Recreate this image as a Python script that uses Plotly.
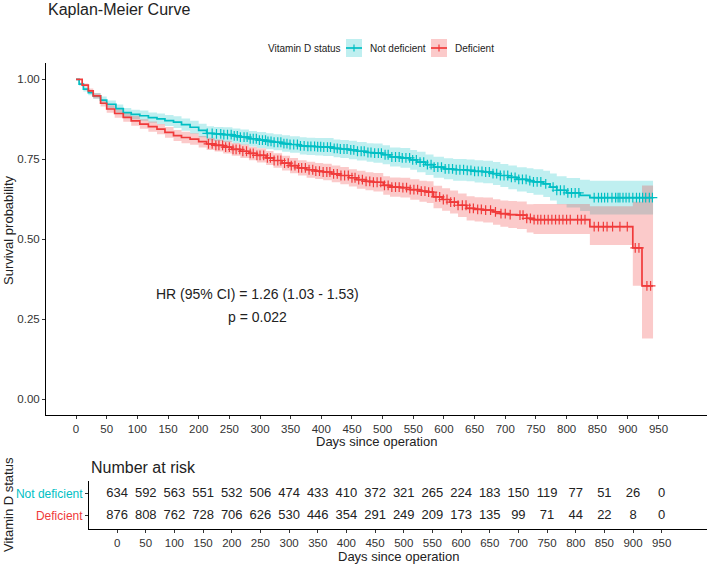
import numpy as np
import plotly.graph_objects as go

# ---------------- data ----------------
group_names = ["Not deficient", "Deficient"]

nd_time = [0, 5, 12, 20, 28, 40, 50, 65, 77, 90, 104, 118, 132, 145, 159, 172, 186, 200, 213, 225, 240,
           255, 268, 282, 295, 310, 322, 336, 349, 365, 376, 390, 403, 420, 431, 445, 458, 474, 485, 500,
           512, 529, 545, 556, 570, 583, 600, 615, 637, 650, 664, 680, 692, 705, 719, 735, 746, 762, 773,
           784, 800, 822, 838, 941]
nd_surv = [1.0, 0.985, 0.969, 0.958, 0.948, 0.935, 0.922, 0.908, 0.896, 0.890, 0.886, 0.880, 0.876, 0.871,
           0.866, 0.858, 0.850, 0.840, 0.831, 0.829, 0.827, 0.823, 0.819, 0.814, 0.810, 0.806, 0.803, 0.799,
           0.796, 0.792, 0.790, 0.789, 0.788, 0.784, 0.782, 0.779, 0.775, 0.771, 0.769, 0.764, 0.757, 0.754,
           0.748, 0.741, 0.733, 0.725, 0.720, 0.717, 0.715, 0.712, 0.710, 0.705, 0.699, 0.693, 0.687, 0.683,
           0.679, 0.673, 0.663, 0.653, 0.645, 0.637, 0.630, 0.630]
nd_lower = [1.0, 0.980, 0.962, 0.950, 0.939, 0.924, 0.910, 0.895, 0.882, 0.875, 0.870, 0.864, 0.859, 0.854,
            0.848, 0.839, 0.830, 0.819, 0.809, 0.807, 0.804, 0.800, 0.795, 0.790, 0.785, 0.781, 0.778, 0.773,
            0.770, 0.765, 0.763, 0.762, 0.760, 0.756, 0.754, 0.750, 0.746, 0.742, 0.739, 0.734, 0.727, 0.723,
            0.717, 0.709, 0.701, 0.692, 0.687, 0.683, 0.681, 0.677, 0.675, 0.669, 0.663, 0.656, 0.649, 0.644,
            0.639, 0.632, 0.621, 0.609, 0.599, 0.588, 0.577, 0.577]
nd_upper = [1.0, 0.990, 0.976, 0.966, 0.957, 0.946, 0.934, 0.921, 0.910, 0.905, 0.902, 0.896, 0.893, 0.888,
            0.884, 0.877, 0.870, 0.861, 0.853, 0.851, 0.850, 0.846, 0.843, 0.838, 0.835, 0.831, 0.828, 0.825,
            0.822, 0.819, 0.817, 0.816, 0.816, 0.812, 0.810, 0.808, 0.804, 0.800, 0.799, 0.794, 0.787, 0.785,
            0.779, 0.773, 0.765, 0.758, 0.753, 0.751, 0.749, 0.747, 0.745, 0.741, 0.735, 0.730, 0.725, 0.722,
            0.719, 0.714, 0.705, 0.697, 0.691, 0.686, 0.683, 0.683]

d_time = [0, 10, 20, 28, 40, 50, 63, 77, 90, 104, 118, 132, 145, 159, 172, 186, 200, 213, 226, 240, 254,
          268, 282, 295, 310, 322, 336, 349, 362, 376, 390, 403, 417, 431, 445, 458, 472, 485, 501, 512,
          529, 545, 560, 572, 583, 597, 610, 623, 637, 650, 664, 680, 692, 705, 719, 735, 746, 838, 908,
          923, 941]
d_surv = [1.0, 0.982, 0.964, 0.948, 0.925, 0.907, 0.893, 0.881, 0.870, 0.860, 0.852, 0.844, 0.834, 0.824,
          0.818, 0.813, 0.805, 0.798, 0.793, 0.788, 0.781, 0.775, 0.768, 0.762, 0.754, 0.746, 0.738, 0.730,
          0.723, 0.717, 0.713, 0.710, 0.704, 0.699, 0.692, 0.686, 0.681, 0.678, 0.668, 0.663, 0.661, 0.655,
          0.650, 0.647, 0.632, 0.624, 0.616, 0.606, 0.596, 0.593, 0.591, 0.585, 0.580, 0.577, 0.575, 0.565,
          0.561, 0.539, 0.473, 0.354, 0.354]
d_lower = [1.0, 0.977, 0.957, 0.940, 0.915, 0.895, 0.880, 0.867, 0.855, 0.845, 0.836, 0.828, 0.817, 0.807,
           0.800, 0.795, 0.787, 0.779, 0.774, 0.768, 0.761, 0.754, 0.747, 0.740, 0.732, 0.723, 0.715, 0.706,
           0.699, 0.692, 0.688, 0.684, 0.678, 0.672, 0.665, 0.658, 0.653, 0.649, 0.639, 0.633, 0.630, 0.623,
           0.617, 0.613, 0.597, 0.589, 0.580, 0.569, 0.558, 0.555, 0.552, 0.545, 0.539, 0.535, 0.532, 0.521,
           0.516, 0.482, 0.354, 0.189, 0.189]
d_upper = [1.0, 0.987, 0.971, 0.956, 0.935, 0.919, 0.906, 0.895, 0.885, 0.875, 0.868, 0.860, 0.851, 0.841,
           0.836, 0.831, 0.823, 0.817, 0.812, 0.808, 0.801, 0.796, 0.789, 0.784, 0.776, 0.769, 0.761, 0.754,
           0.747, 0.742, 0.738, 0.736, 0.730, 0.726, 0.719, 0.714, 0.709, 0.707, 0.697, 0.693, 0.692, 0.687,
           0.683, 0.681, 0.667, 0.659, 0.652, 0.643, 0.634, 0.631, 0.630, 0.625, 0.621, 0.619, 0.618, 0.609,
           0.610, 0.603, 0.617, 0.668, 0.668]

nd_censor = [214, 222, 229, 236, 241, 247, 253, 258, 263, 268, 274, 279, 284, 289, 294, 299, 304, 309, 313,
             318, 323, 329, 334, 339, 344, 349, 355, 361, 366, 372, 378, 383, 389, 394, 399, 404, 410, 415,
             421, 426, 431, 437, 442, 448, 453, 459, 465, 470, 476, 481, 487, 493, 498, 504, 509, 515, 521,
             527, 532, 538, 544, 549, 555, 561, 567, 573, 579, 584, 590, 596, 602, 608, 614, 620, 626, 632,
             638, 644, 650, 656, 662, 668, 674, 680, 686, 692, 698, 704, 710, 716, 722, 728, 734, 740, 746,
             752, 758, 766, 778, 784, 790, 796, 802, 808, 814, 820, 845, 852, 857, 862, 867, 874, 880, 884,
             887, 892, 897, 902, 908, 914, 919, 924, 929, 935, 940]
d_censor = [216, 222, 228, 233, 239, 244, 250, 256, 261, 267, 272, 278, 284, 289, 295, 300, 306, 312, 317,
            323, 329, 334, 340, 346, 351, 357, 363, 368, 374, 380, 386, 391, 397, 403, 409, 414, 420, 426,
            432, 438, 444, 450, 455, 461, 467, 473, 479, 485, 491, 497, 503, 509, 515, 521, 527, 533, 539,
            545, 551, 557, 563, 569, 575, 581, 587, 593, 599, 605, 611, 617, 623, 630, 636, 642, 648, 655,
            661, 668, 676, 684, 693, 700, 708, 724, 729, 735, 741, 747, 753, 758, 764, 770, 776, 782, 788,
            794, 800, 806, 818, 824, 830, 845, 852, 860, 866, 875, 887, 899, 912, 918, 931, 937]

risk_times = [0, 50, 100, 150, 200, 250, 300, 350, 400, 450, 500, 550, 600, 650, 700, 750, 800, 850, 900, 950]
risk_nd = [634, 592, 563, 551, 532, 506, 474, 433, 410, 372, 321, 265, 224, 183, 150, 119, 77, 51, 26, 0]
risk_d = [876, 808, 762, 728, 706, 626, 530, 446, 354, 291, 249, 209, 173, 135, 99, 71, 44, 22, 8, 0]

x_ticks = [0, 50, 100, 150, 200, 250, 300, 350, 400, 450, 500, 550, 600, 650, 700, 750, 800, 850, 900, 950]
y_ticks = [0, 0.25, 0.5, 0.75, 1.0]
y_ticklabels = ["0.00", "0.25", "0.50", "0.75", "1.00"]

hr_text = "HR (95% CI) = 1.26 (1.03 - 1.53)"
p_text = "p = 0.022"

# ---------------- style ----------------
TEAL = "#00BFC4"
RED = "#F03A3A"
TEAL_FILL = "rgba(0,191,196,0.25)"
RED_FILL = "rgba(240,58,58,0.27)"
FONT = "Liberation Sans, Arial, sans-serif"
TXT = "#222222"
W, H = 708, 564


def px(x):
    return x / W


def py(y):
    return 1 - y / H


def step_value(times, surv, t):
    i = np.searchsorted(np.asarray(times), t, side="right") - 1
    return float(np.asarray(surv)[i])


fig = go.Figure()

# confidence bands
for ct, lo, up, fill in [(nd_time, nd_lower, nd_upper, TEAL_FILL),
                         (d_time, d_lower, d_upper, RED_FILL)]:
    fig.add_trace(go.Scatter(x=ct, y=lo, mode="lines", line=dict(width=0, shape="hv"),
                             hoverinfo="skip", showlegend=False, xaxis="x", yaxis="y"))
    fig.add_trace(go.Scatter(x=ct, y=up, mode="lines", line=dict(width=0, shape="hv"),
                             fill="tonexty", fillcolor=fill, hoverinfo="skip",
                             showlegend=False, xaxis="x", yaxis="y"))

# survival curves + censor marks
for t, s, cens, col, name in [(nd_time, nd_surv, nd_censor, TEAL, group_names[0]),
                              (d_time, d_surv, d_censor, RED, group_names[1])]:
    fig.add_trace(go.Scatter(x=t, y=s, mode="lines", line=dict(color=col, width=1.7, shape="hv"),
                             name=name, showlegend=False, xaxis="x", yaxis="y"))
    cy = [step_value(t, s, c) for c in cens]
    fig.add_trace(go.Scatter(x=cens, y=cy, mode="markers",
                             marker=dict(symbol="cross-thin", size=7, color=col,
                                         line=dict(color=col, width=1.2)),
                             showlegend=False, hoverinfo="skip", xaxis="x", yaxis="y"))

# number-at-risk table
fig.add_trace(go.Scatter(x=risk_times, y=[2] * len(risk_times), mode="text",
                         text=[str(v) for v in risk_nd], textfont=dict(size=13, color=TXT, family=FONT),
                         showlegend=False, hoverinfo="skip", xaxis="x2", yaxis="y2"))
fig.add_trace(go.Scatter(x=risk_times, y=[1] * len(risk_times), mode="text",
                         text=[str(v) for v in risk_d], textfont=dict(size=13, color=TXT, family=FONT),
                         showlegend=False, hoverinfo="skip", xaxis="x2", yaxis="y2"))

axis_common = dict(showgrid=False, zeroline=False, showline=True, linecolor="black", linewidth=1,
                   ticks="outside", ticklen=3, tickcolor="#333333", tickwidth=1,
                   tickfont=dict(size=11.5, color="#333333", family=FONT))

fig.update_layout(
    width=W, height=H, margin=dict(l=0, r=0, t=0, b=0),
    paper_bgcolor="white", plot_bgcolor="white", showlegend=False,
    font=dict(family=FONT, color=TXT),
    xaxis=dict(domain=[px(46), px(707)], range=[-49, 1029], tickvals=x_ticks, anchor="y", **axis_common),
    yaxis=dict(domain=[py(415), py(63.3)], range=[-0.05, 1.05], tickvals=y_ticks, ticktext=y_ticklabels,
               anchor="x", **axis_common),
    xaxis2=dict(domain=[px(89), px(707)], range=[-49, 1029], tickvals=x_ticks, anchor="y2", **axis_common),
    yaxis2=dict(domain=[py(529), py(480.7)], range=[0.4, 2.6], tickvals=[1, 2],
                ticktext=["<span style='color:%s'>%s</span>" % (RED, group_names[1]),
                          "<span style='color:%s'>%s</span>" % (TEAL, group_names[0])],
                anchor="x2", **{**axis_common, "tickfont": dict(size=12, family=FONT)}),
)

ann = []
# titles
ann.append(dict(text="Kaplan-Meier Curve", x=px(46), y=py(10), xref="paper", yref="paper",
                xanchor="left", yanchor="middle", showarrow=False, font=dict(size=16, color=TXT)))
ann.append(dict(text="Days since operation", x=(px(46) + px(707)) / 2, y=py(441), xref="paper", yref="paper",
                xanchor="center", yanchor="middle", showarrow=False, font=dict(size=13, color=TXT)))
ann.append(dict(text="Survival probability", x=px(8), y=py(230), xref="paper", yref="paper",
                xanchor="center", yanchor="middle", textangle=-90, showarrow=False,
                font=dict(size=13, color=TXT)))
ann.append(dict(text="Number at risk", x=px(89), y=py(467), xref="paper", yref="paper",
                xanchor="left", yanchor="middle", showarrow=False, font=dict(size=16, color=TXT)))
ann.append(dict(text="Days since operation", x=(px(89) + px(707)) / 2, y=py(556), xref="paper", yref="paper",
                xanchor="center", yanchor="middle", showarrow=False, font=dict(size=13, color=TXT)))
ann.append(dict(text="Vitamin D status", x=px(8), y=py(505), xref="paper", yref="paper",
                xanchor="center", yanchor="middle", textangle=-90, showarrow=False,
                font=dict(size=13, color=TXT)))
# HR / p annotation
ann.append(dict(text=hr_text, x=296, y=0.33, xref="x", yref="y", xanchor="center", yanchor="middle",
                showarrow=False, font=dict(size=14, color=TXT)))
ann.append(dict(text=p_text, x=296, y=0.258, xref="x", yref="y", xanchor="center", yanchor="middle",
                showarrow=False, font=dict(size=14, color=TXT)))
# legend texts
ann.append(dict(text="Vitamin D status", x=px(266), y=py(48), xref="paper", yref="paper",
                xanchor="left", yanchor="middle", showarrow=False, font=dict(size=10, color=TXT)))
ann.append(dict(text=group_names[0], x=px(368), y=py(48), xref="paper", yref="paper",
                xanchor="left", yanchor="middle", showarrow=False, font=dict(size=10, color=TXT)))
ann.append(dict(text=group_names[1], x=px(453), y=py(48), xref="paper", yref="paper",
                xanchor="left", yanchor="middle", showarrow=False, font=dict(size=10, color=TXT)))

shapes = []
for x0, col, fill in [(346, TEAL, TEAL_FILL), (431, RED, RED_FILL)]:
    shapes.append(dict(type="rect", xref="paper", yref="paper", x0=px(x0), x1=px(x0 + 16),
                       y0=py(57), y1=py(39), fillcolor=fill, line=dict(width=0)))
    shapes.append(dict(type="line", xref="paper", yref="paper", x0=px(x0), x1=px(x0 + 16),
                       y0=py(48), y1=py(48), line=dict(color=col, width=1.7)))
    shapes.append(dict(type="line", xref="paper", yref="paper", x0=px(x0 + 8), x1=px(x0 + 8),
                       y0=py(44.5), y1=py(51.5), line=dict(color=col, width=1.2)))

fig.update_layout(annotations=ann, shapes=shapes)
fig.write_html("out.html", config={"displayModeBar": False},
               post_script="document.body.style.margin='0';document.body.style.padding='0';"
                           "document.body.style.overflow='hidden';")
